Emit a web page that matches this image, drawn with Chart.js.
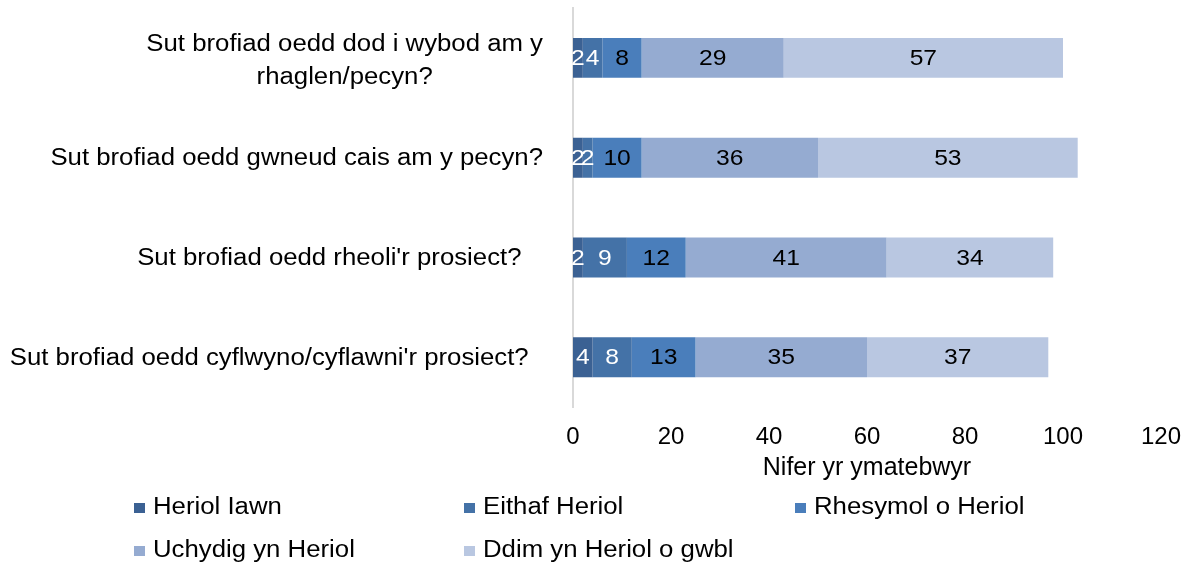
<!DOCTYPE html>
<html>
<head>
<meta charset="utf-8">
<script src="https://cdn.jsdelivr.net/npm/chart.js@4.4.1/dist/chart.umd.min.js"></script>
<style>
	html, body { margin: 0; padding: 0; background: #fff; }
	#wrap { position: relative; width: 1192px; height: 565px; }
</style>
</head>
<body>
<div id="wrap"><canvas id="chart"></canvas></div>
<script>
// Categories (trailing spaces kept as in the source sheet)
const CATEGORIES = [
	['Sut brofiad oedd dod i wybod am y', 'rhaglen/pecyn?'],
	'Sut brofiad oedd gwneud cais am y pecyn?',
	"Sut brofiad oedd rheoli'r prosiect?   ",
	"Sut brofiad oedd cyflwyno/cyflawni'r prosiect?  "
];
const SERIES_NAMES = ['Heriol Iawn', 'Eithaf Heriol', 'Rhesymol o Heriol', 'Uchydig yn Heriol', 'Ddim yn Heriol o gwbl'];
const HERIOL_IAWN  = [2, 2, 2, 4];
const EITHAF       = [4, 2, 9, 8];
const RHESYMOL     = [8, 10, 12, 13];
const UCHYDIG      = [29, 36, 41, 35];
const DDIM         = [57, 53, 34, 37];
const X_TICKS      = [0, 20, 40, 60, 80, 100, 120];
const X_TITLE      = 'Nifer yr ymatebwyr';

const SERIES      = [HERIOL_IAWN, EITHAF, RHESYMOL, UCHYDIG, DDIM];
const COLOURS     = ['#3b6193', '#4472a7', '#4a7ebb', '#95abd1', '#b9c7e1'];
const VALUE_INK   = ['#ffffff', '#ffffff', '#000000', '#000000', '#000000'];
const FONT        = '"Liberation Sans", Arial, sans-serif';
const SX          = 1.12;   // source picture text is a bit wide

function wideText(ctx, text, x, y, align) {
	ctx.save();
	ctx.translate(x, y);
	ctx.scale(SX, 1);
	ctx.textAlign = align;
	ctx.fillText(text, 0, 0);
	ctx.restore();
}

// Category labels, value labels and the grid legend
const drawExtras = {
	id: 'drawExtras',
	afterDatasetsDraw(chart) {
		const ctx = chart.ctx;
		ctx.save();
		ctx.textBaseline = 'middle';
		ctx.font = '22px ' + FONT;
		chart.data.datasets.forEach((ds, di) => {
			const meta = chart.getDatasetMeta(di);
			ctx.fillStyle = VALUE_INK[di];
			meta.data.forEach((bar, i) => {
				const v = ds.data[i];
				if (!v) return;
				wideText(ctx, String(v), (bar.x + bar.base) / 2, bar.y + 1, 'center');
			});
		});
		ctx.restore();
	},
	afterDraw(chart) {
		const ctx = chart.ctx;
		const y = chart.scales.y;
		ctx.save();
		ctx.textBaseline = 'middle';
		ctx.fillStyle = '#000';
		ctx.font = '23px ' + FONT;
		const right = 543;
		CATEGORIES.forEach((lab, i) => {
			const cy = y.getPixelForValue(i);
			if (Array.isArray(lab)) {
				const w = Math.max(...lab.map(t => ctx.measureText(t).width)) * SX;
				const cx = right - w / 2;
				wideText(ctx, lab[0], cx, cy - 13, 'center');
				wideText(ctx, lab[1], cx, cy + 20, 'center');
			} else {
				wideText(ctx, lab, right, cy + 1, 'right');
			}
		});

		// legend: 3 columns, 2 rows
		const colX = [134, 464, 795];
		const rowY = [508, 551];
		SERIES_NAMES.forEach((name, i) => {
			const x = colX[i % 3];
			const ry = rowY[Math.floor(i / 3)];
			ctx.fillStyle = COLOURS[i];
			ctx.fillRect(x, ry - 5, 11, 10);
			ctx.fillStyle = '#000';
			wideText(ctx, name, x + 19, ry, 'left');
		});
		ctx.restore();
	}
};

const ctx = document.getElementById('chart').getContext('2d');
new Chart(ctx, {
	type: 'bar',
	data: {
		labels: CATEGORIES,
		datasets: SERIES.map((d, i) => ({
			label: SERIES_NAMES[i],
			data: d,
			backgroundColor: COLOURS[i],
			borderWidth: 0,
			barPercentage: 0.4,
			categoryPercentage: 1
		}))
	},
	options: {
		indexAxis: 'y',
		responsive: true,
		maintainAspectRatio: false,
		animation: false,
		layout: { padding: { top: 8, right: 31, bottom: 82, left: 0 } },
		plugins: {
			legend: { display: false },
			tooltip: { enabled: false }
		},
		scales: {
			x: {
				stacked: true,
				min: 0,
				max: 120,
				grid: { display: false, drawTicks: false },
				border: { display: false },
				afterBuildTicks: s => { s.ticks = X_TICKS.map(v => ({ value: v })); },
				afterFit: s => { s.paddingRight = 0; s.paddingLeft = 0; },
				ticks: { font: { family: FONT, size: 24 }, color: '#000', padding: 16, maxRotation: 0 },
				title: {
					display: true,
					text: X_TITLE,
					font: { family: FONT, size: 25 },
					color: '#000',
					padding: { top: -15, bottom: 0 }
				}
			},
			y: {
				stacked: true,
				grid: { display: false, drawTicks: false },
				border: { display: true, color: '#d9d9d9', width: 2 },
				ticks: { display: false },
				afterFit: s => { s.width = 573; }
			}
		}
	},
	plugins: [drawExtras]
});
</script>
</body>
</html>
